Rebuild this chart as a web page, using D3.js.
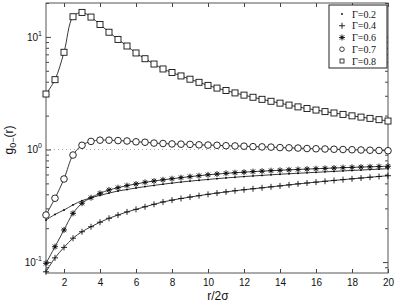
<!DOCTYPE html>
<html><head><meta charset="utf-8">
<script src="https://cdn.jsdelivr.net/npm/d3@7"></script>
<style>body{margin:0;background:#fff}svg{display:block}</style>
</head><body><svg id="c" width="399" height="303"></svg>
<script>
const rValues = [1,1.5,2,2.5,3,3.5,4,4.5,5,5.5,6,6.5,7,7.5,8,8.5,9,9.5,10,10.5,11,11.5,12,12.5,13,13.5,14,14.5,15,15.5,16,16.5,17,17.5,18,18.5,19,19.5,20];
const g02 = [0.236,0.265,0.29,0.322,0.351,0.372,0.392,0.41,0.428,0.441,0.455,0.468,0.48,0.492,0.503,0.514,0.524,0.533,0.542,0.551,0.559,0.567,0.575,0.582,0.589,0.596,0.603,0.609,0.615,0.621,0.627,0.633,0.639,0.645,0.651,0.657,0.663,0.669,0.675];
const g04 = [0.082,0.109,0.135,0.163,0.186,0.206,0.226,0.245,0.262,0.279,0.294,0.31,0.326,0.342,0.355,0.367,0.378,0.389,0.4,0.41,0.42,0.43,0.439,0.448,0.457,0.466,0.475,0.485,0.495,0.504,0.513,0.522,0.531,0.540,0.549,0.558,0.567,0.576,0.585];
const g06 = [0.0975,0.137,0.193,0.271,0.333,0.373,0.408,0.437,0.458,0.478,0.494,0.511,0.525,0.538,0.55,0.562,0.574,0.585,0.596,0.605,0.614,0.622,0.629,0.636,0.642,0.648,0.654,0.66,0.665,0.67,0.675,0.68,0.685,0.69,0.694,0.698,0.702,0.706,0.71];
const g07 = [0.262,0.369,0.547,0.893,1.09,1.18,1.21,1.21,1.2,1.19,1.17,1.16,1.14,1.13,1.12,1.115,1.11,1.10,1.095,1.09,1.08,1.075,1.07,1.06,1.055,1.05,1.04,1.035,1.03,1.02,1.015,1.01,1.005,1.0,0.995,0.99,0.985,0.98,0.975];
const g08 = [3.11,4.17,7.3,15.1,16.5,15.0,12.9,11.0,9.5,8.3,7.2,6.4,5.74,5.19,4.83,4.5,4.21,3.95,3.71,3.51,3.34,3.18,3.04,2.91,2.79,2.68,2.58,2.48,2.39,2.31,2.24,2.17,2.11,2.05,1.99,1.94,1.89,1.84,1.79];
const seriesNames = ["\u0393=0.2","\u0393=0.4","\u0393=0.6","\u0393=0.7","\u0393=0.8"];
const seriesMarkers = ["dot","plus","star","circle","square"];
const xTicks = [2,4,6,8,10,12,14,16,18,20];
const yMajor = [0.1,1,10];
const yMajorLabels = ["-1","0","1"];

const svg = d3.select("#c");
const L=46,R=388,T=3,B=273;
const x = d3.scaleLinear().domain([1,20]).range([L,R]);
const y = d3.scaleLog().domain([0.08,20]).range([B,T]);
const stroke="#222";

// dotted reference line at g=1
svg.append("line").attr("x1",L).attr("x2",R).attr("y1",y(1)).attr("y2",y(1))
  .attr("stroke","#aaa").attr("stroke-width",1).attr("stroke-dasharray","1,3");

// axes
const gx = svg.append("g").attr("transform",`translate(0,${B})`)
  .call(d3.axisBottom(x).tickValues(xTicks).tickSize(-4).tickPadding(6).tickFormat(d3.format("d")));
svg.append("g").attr("transform",`translate(0,${T})`)
  .call(d3.axisTop(x).tickValues(xTicks).tickSize(-4).tickFormat(""));
const minorY=[0.09];
[0.1,1,10].forEach(d=>{for(let k=2;k<=9;k++){const v=d*k; if(v<=20) minorY.push(v);}});
svg.append("g").attr("transform",`translate(${L},0)`)
  .call(d3.axisLeft(y).tickValues(yMajor).tickSize(-5).tickFormat(""));
svg.append("g").attr("transform",`translate(${L},0)`)
  .call(d3.axisLeft(y).tickValues(minorY).tickSize(-3).tickFormat(""));
svg.append("g").attr("transform",`translate(${R},0)`)
  .call(d3.axisRight(y).tickValues(yMajor).tickSize(-5).tickFormat(""));
svg.append("g").attr("transform",`translate(${R},0)`)
  .call(d3.axisRight(y).tickValues(minorY).tickSize(-3).tickFormat(""));
svg.selectAll(".domain").remove();
svg.selectAll(".tick line").attr("stroke","#444");
gx.selectAll("text").attr("font-family","Liberation Sans, Arial, sans-serif").attr("font-size",10).attr("fill","#111");

// y tick labels with superscripts
yMajor.forEach((v,i)=>{
  const t = svg.append("text").attr("x",L-4).attr("y",y(v)+4).attr("text-anchor","end")
    .attr("font-family","Liberation Sans, Arial, sans-serif").attr("font-size",10).attr("fill","#111");
  t.append("tspan").text("10");
  t.append("tspan").attr("dy",-5).attr("font-size",7).text(yMajorLabels[i]);
});

// frame
svg.append("rect").attr("x",L).attr("y",T).attr("width",R-L).attr("height",B-T)
  .attr("fill","none").attr("stroke","#555").attr("stroke-width",1);

// curves
const allSeries=[g02,g04,g06,g07,g08];
const line = d3.line().x((d,i)=>x(rValues[i])).y(d=>y(d)).curve(d3.curveCatmullRom.alpha(0.5));
allSeries.forEach(s=>{
  svg.append("path").datum(s).attr("d",line).attr("fill","none").attr("stroke",stroke).attr("stroke-width",0.9);
});

function marker(g,type,cx,cy){
  if(type==="dot") g.append("circle").attr("cx",cx).attr("cy",cy).attr("r",0.9).attr("fill","#000");
  else if(type==="plus") g.append("path").attr("d",`M${cx-3},${cy}H${cx+3}M${cx},${cy-3}V${cy+3}`).attr("stroke","#111").attr("stroke-width",0.9);
  else if(type==="star"){
    g.append("path").attr("d",`M${cx-3},${cy}H${cx+3}M${cx},${cy-3}V${cy+3}M${cx-2.2},${cy-2.2}L${cx+2.2},${cy+2.2}M${cx-2.2},${cy+2.2}L${cx+2.2},${cy-2.2}`).attr("stroke","#111").attr("stroke-width",0.9);
    g.append("circle").attr("cx",cx).attr("cy",cy).attr("r",1.3).attr("fill","#111");
  }
  else if(type==="circle") g.append("circle").attr("cx",cx).attr("cy",cy).attr("r",3.3).attr("fill","#fff").attr("stroke","#111").attr("stroke-width",0.9);
  else if(type==="square") g.append("rect").attr("x",cx-3).attr("y",cy-3).attr("width",6).attr("height",6).attr("fill","#fff").attr("stroke","#111").attr("stroke-width",0.9);
}
const mg = svg.append("g");
allSeries.forEach((s,k)=>{
  rValues.forEach((r,i)=>{ marker(mg,seriesMarkers[k],x(r),y(s[i])); });
});

// legend
const lg = svg.append("g");
lg.append("rect").attr("x",329).attr("y",5).attr("width",58).attr("height",63).attr("fill","#fff").attr("stroke","#222").attr("stroke-width",1);
seriesNames.forEach((n,i)=>{
  const yy = 14 + i*11.75;
  const sm = seriesMarkers[i];
  if(sm==="circle"){ lg.append("circle").attr("cx",342).attr("cy",yy).attr("r",2.3).attr("fill","#fff").attr("stroke","#111").attr("stroke-width",0.8); }
  else if(sm==="square"){ lg.append("rect").attr("x",340).attr("y",yy-2).attr("width",4).attr("height",4).attr("fill","#fff").attr("stroke","#111").attr("stroke-width",0.8); }
  else marker(lg,sm,342,yy);
  lg.append("text").attr("x",352).attr("y",yy+3.5).attr("font-family","Liberation Serif, Times New Roman, serif").attr("font-size",10).attr("fill","#111").text(n);
});

// axis labels
svg.append("text").attr("x",218).attr("y",300).attr("text-anchor","middle")
  .attr("font-family","Liberation Sans, Arial, sans-serif").attr("font-size",12).attr("fill","#111").text("r/2\u03c3");
const yl = svg.append("text").attr("transform","translate(13,140) rotate(-90)").attr("text-anchor","middle")
  .attr("font-family","Liberation Sans, Arial, sans-serif").attr("font-size",12).attr("fill","#111");
yl.append("tspan").text("g");
yl.append("tspan").attr("dy",3).attr("font-size",9).text("0\u2212");
yl.append("tspan").attr("dy",-3).text("(r)");
</script></body></html>
